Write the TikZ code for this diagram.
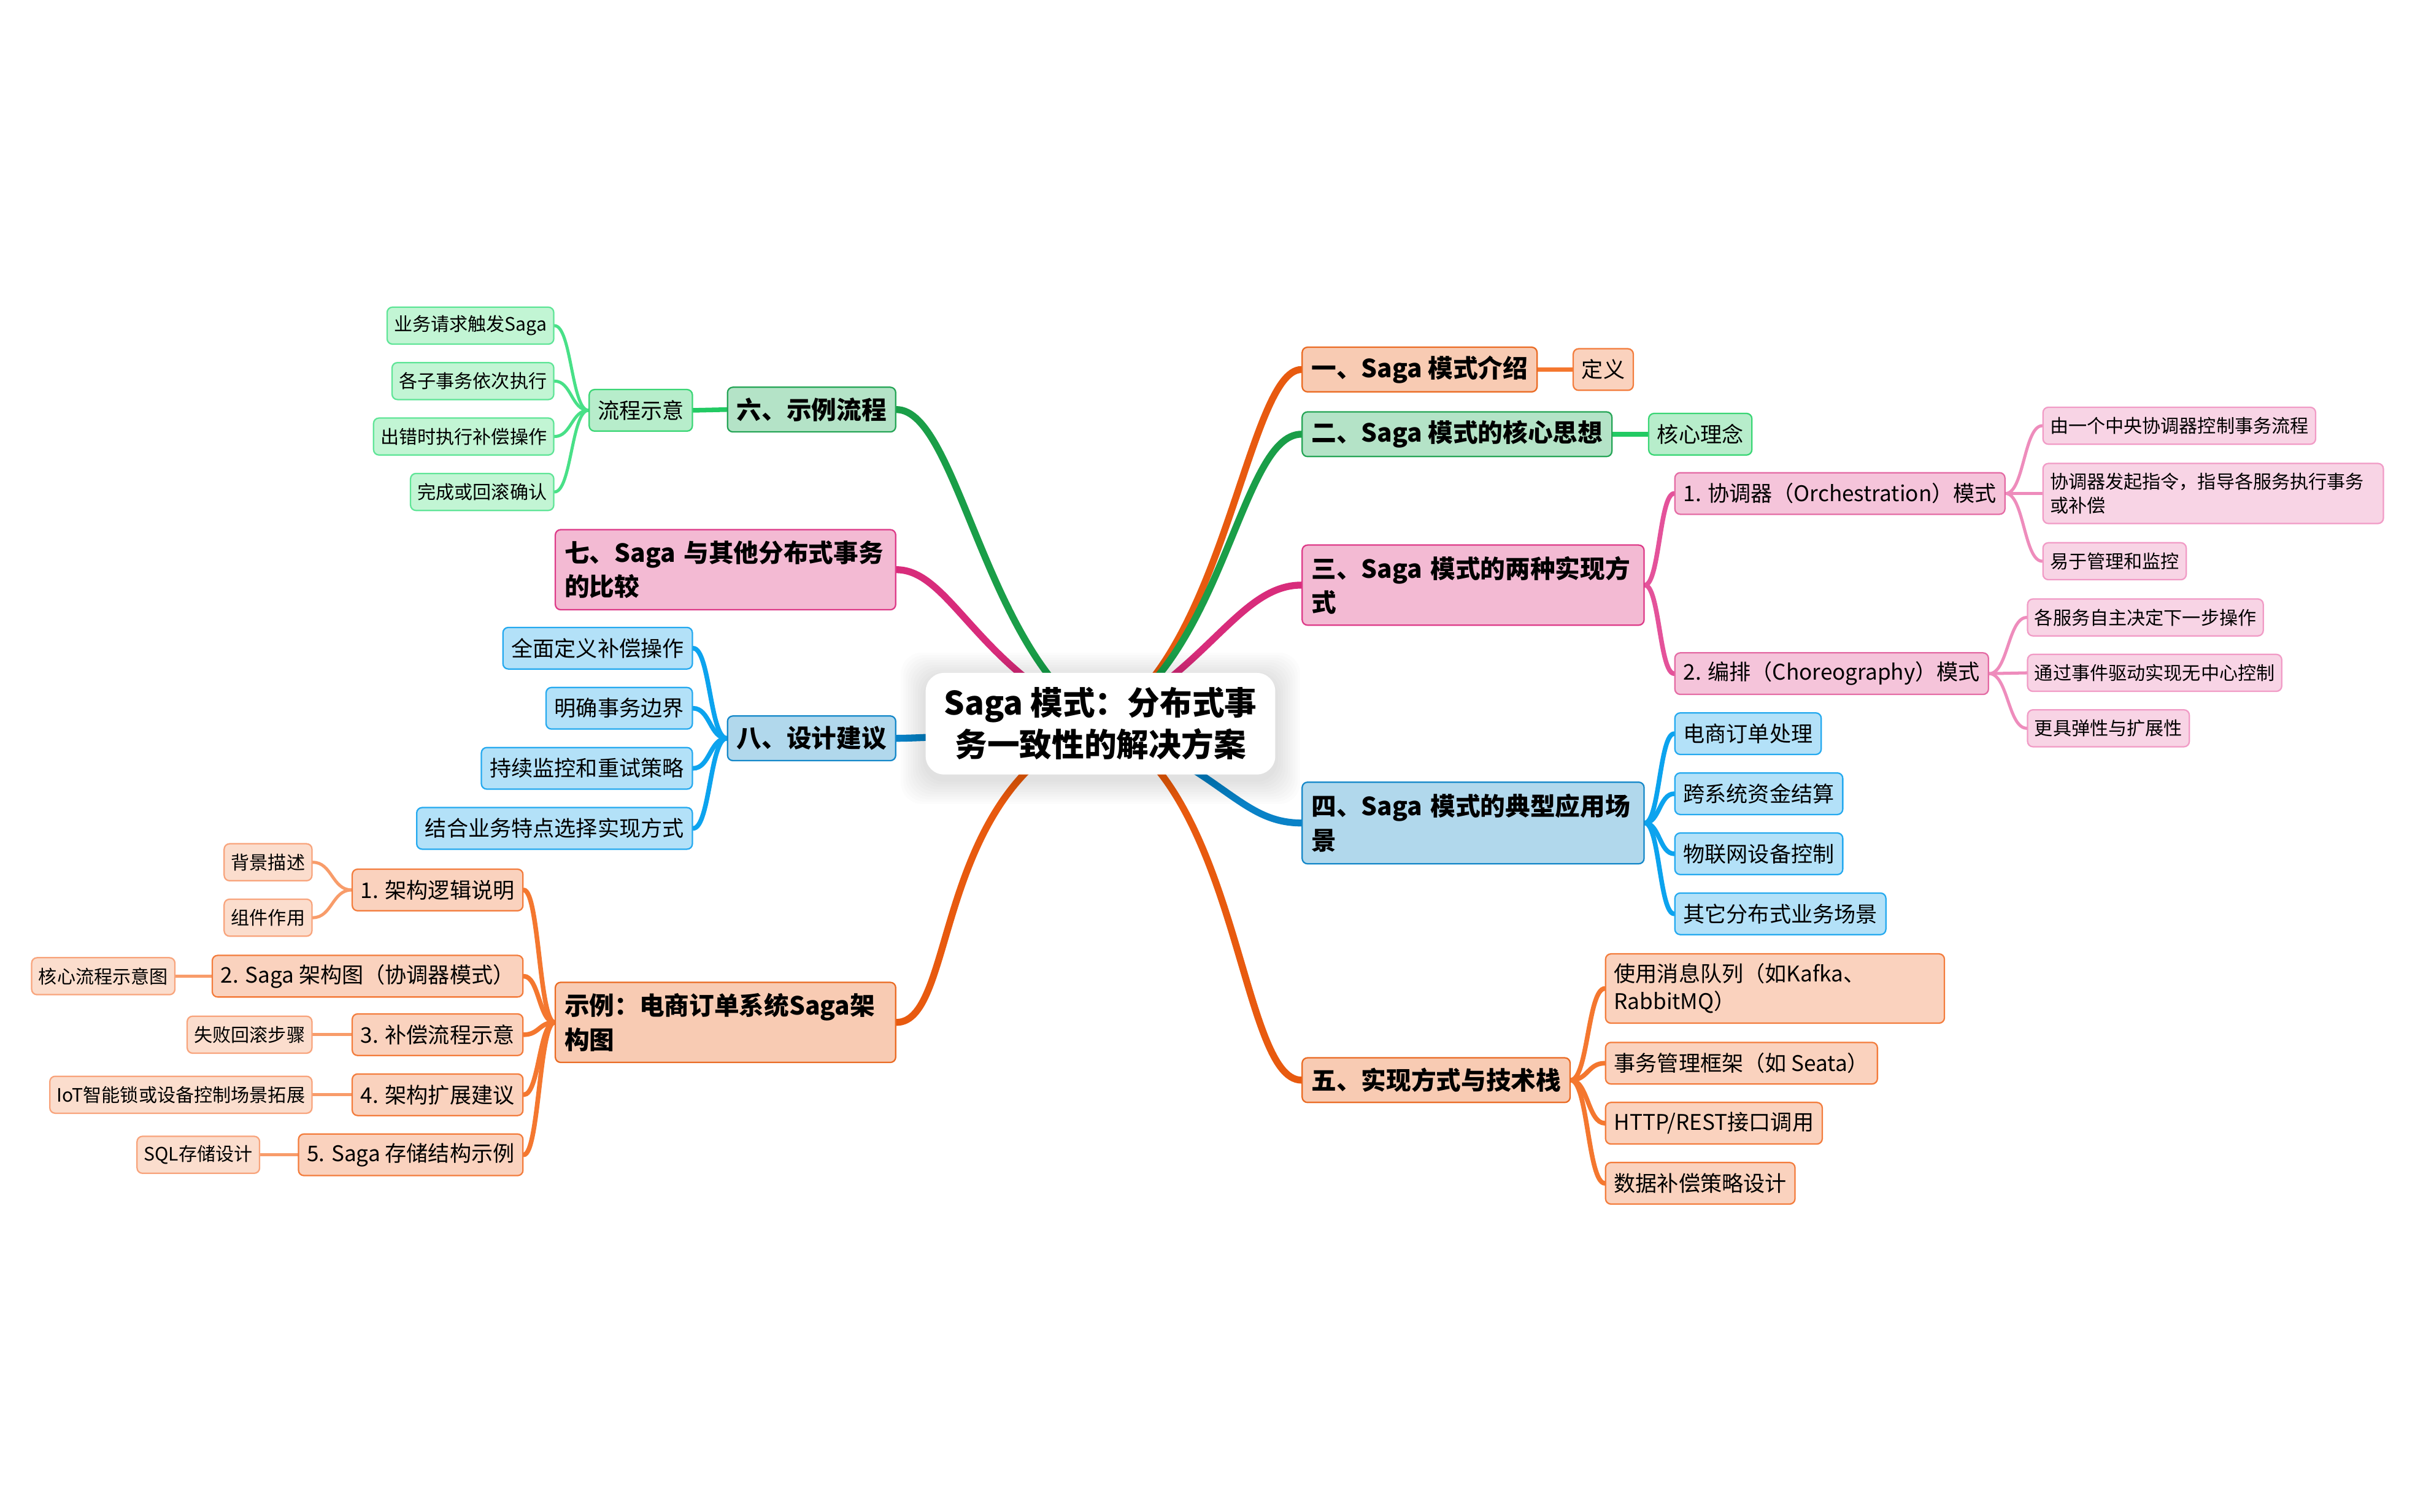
\documentclass[tikz,border=0pt]{standalone}
\usepackage{fontspec}
\setmainfont{Noto Sans CJK SC}
\usetikzlibrary{calc}
\pgfdeclarelayer{back}
\pgfdeclarelayer{bg}
\pgfsetlayers{back,bg,main}
% orange
\definecolor{olineA}{HTML}{E85A0F}
\definecolor{ofillA}{HTML}{F8CBB3}
\definecolor{odrawA}{HTML}{EA6A22}
\definecolor{olineB}{HTML}{F4772F}
\definecolor{ofillB}{HTML}{FAD2BE}
\definecolor{odrawB}{HTML}{F37C3C}
\definecolor{olineC}{HTML}{F89C6A}
\definecolor{ofillC}{HTML}{FBDDCD}
\definecolor{odrawC}{HTML}{F8A47C}
% green
\definecolor{glineA}{HTML}{1A9E48}
\definecolor{gfillA}{HTML}{B4E3C7}
\definecolor{gdrawA}{HTML}{25A556}
\definecolor{glineB}{HTML}{22CA63}
\definecolor{gfillB}{HTML}{B7EDCB}
\definecolor{gdrawB}{HTML}{3AD675}
\definecolor{glineC}{HTML}{48E087}
\definecolor{gfillC}{HTML}{C2F5D4}
\definecolor{gdrawC}{HTML}{5FE597}
% pink
\definecolor{plineA}{HTML}{D82C7B}
\definecolor{pfillA}{HTML}{F3BAD3}
\definecolor{pdrawA}{HTML}{DD3A88}
\definecolor{plineB}{HTML}{E4529A}
\definecolor{pfillB}{HTML}{F5C4DA}
\definecolor{pdrawB}{HTML}{E46BA4}
\definecolor{plineC}{HTML}{EE8CBC}
\definecolor{pfillC}{HTML}{F8D4E5}
\definecolor{pdrawC}{HTML}{F19BC6}
% blue
\definecolor{blineA}{HTML}{0A82C7}
\definecolor{bfillA}{HTML}{B1D8EC}
\definecolor{bdrawA}{HTML}{1588C9}
\definecolor{blineB}{HTML}{0CA3EE}
\definecolor{bfillB}{HTML}{B3E1F8}
\definecolor{bdrawB}{HTML}{24A9EF}
\tikzset{
  mm/.style={to path={let \p1=(\tikztostart), \p2=(\tikztotarget) in
     .. controls ({\x1+0.5*(\x2-\x1)},\y1) and ({\x1+0.5*(\x2-\x1)},\y2) .. (\tikztotarget)}},
  bx/.style={draw, rounded corners=3.5pt, line width=0.9pt, align=left, text=black, inner ysep=2pt},
  lvA/.style={bx, font=\fontsize{16.2}{22}\selectfont\bfseries, inner xsep=6pt, minimum height=29pt},
  lvB/.style={bx, font=\fontsize{14}{18}\selectfont, inner xsep=5.5pt, minimum height=27pt},
  lvC/.style={bx, font=\fontsize{12}{15.5}\selectfont, inner xsep=4.5pt, minimum height=24pt},
  nOA/.style={lvA, fill=ofillA, draw=odrawA},
  nOB/.style={lvB, fill=ofillB, draw=odrawB},
  nOC/.style={lvC, fill=ofillC, draw=odrawC},
  nGA/.style={lvA, fill=gfillA, draw=gdrawA},
  nGB/.style={lvB, fill=gfillB, draw=gdrawB},
  nGC/.style={lvC, fill=gfillC, draw=gdrawC},
  nPA/.style={lvA, fill=pfillA, draw=pdrawA},
  nPB/.style={lvB, fill=pfillB, draw=pdrawB},
  nPC/.style={lvC, fill=pfillC, draw=pdrawC},
  nBA/.style={lvA, fill=bfillA, draw=bdrawA},
  nBB/.style={lvB, fill=bfillB, draw=bdrawB},
  eA/.style={line width=4.5pt, line cap=round},
  eB/.style={line width=3pt, line cap=round},
  eC/.style={line width=2pt, line cap=round},
  eOA/.style={eA, draw=olineA}, eOB/.style={eB, draw=olineB}, eOC/.style={eC, draw=olineC},
  eGA/.style={eA, draw=glineA}, eGB/.style={eB, draw=glineB}, eGC/.style={eC, draw=glineC},
  ePA/.style={eA, draw=plineA}, ePB/.style={eB, draw=plineB}, ePC/.style={eC, draw=plineC},
  eBA/.style={eA, draw=blineA}, eBB/.style={eB, draw=blineB},
}
\begin{document}
\begin{tikzpicture}[x=1pt,y=1pt]
\begin{pgfonlayer}{back}
\fill[white] (0,0) rectangle (1568,-981.6);
\end{pgfonlayer}
\useasboundingbox (0,0) rectangle (1568,-981.6);

% central
\node[fill=white, rounded corners=12pt, minimum width=227pt, minimum height=66pt, inner sep=0pt,
      align=center, font=\fontsize{21}{27}\selectfont\bfseries] (c) at (714.5,-470) {Saga 模式：分布式事\\务一致性的解决方案};

% right side
\node[nOA, anchor=west] (b1) at (845,-240) {一、Saga 模式介绍};
\node[nOB, anchor=west] (b1a) at (1021,-240) {定义};
\node[nGA, anchor=west] (b2) at (845,-282) {二、Saga 模式的核心思想};
\node[nGB, anchor=west] (b2a) at (1070,-282) {核心理念};
\node[nPA, anchor=west, text width=210pt, minimum height=52pt] (b3) at (845,-380) {\mbox{三、Saga 模式的两种实现方}\\式};
\node[nPB, anchor=west] (b3a) at (1087,-320.5) {1. 协调器（Orchestration）模式};
\node[nPC, anchor=west] (b3a1) at (1326,-276.5) {由一个中央协调器控制事务流程};
\node[nPC, anchor=west, text width=212pt, minimum height=39pt] (b3a2) at (1326,-320.5) {协调器发起指令，指导各服务执行事务\\或补偿};
\node[nPC, anchor=west] (b3a3) at (1326,-364.5) {易于管理和监控};
\node[nPB, anchor=west] (b3b) at (1087,-437.5) {2. 编排（Choreography）模式};
\node[nPC, anchor=west] (b3b1) at (1316,-401) {各服务自主决定下一步操作};
\node[nPC, anchor=west] (b3b2) at (1316,-437) {通过事件驱动实现无中心控制};
\node[nPC, anchor=west] (b3b3) at (1316,-473) {更具弹性与扩展性};
\node[nBA, anchor=west, text width=210pt, minimum height=53pt] (b4) at (845,-534.5) {\mbox{四、Saga 模式的典型应用场}\\景};
\node[nBB, anchor=west] (b4a) at (1087,-476.5) {电商订单处理};
\node[nBB, anchor=west] (b4b) at (1087,-515.5) {跨系统资金结算};
\node[nBB, anchor=west] (b4c) at (1087,-554.5) {物联网设备控制};
\node[nBB, anchor=west] (b4d) at (1087,-593.5) {其它分布式业务场景};
\node[nOA, anchor=west] (b5) at (845,-701.5) {五、实现方式与技术栈};
\node[nOB, anchor=west, text width=209pt, minimum height=45pt] (b5a) at (1042,-642) {使用消息队列（如Kafka、\\RabbitMQ）};
\node[nOB, anchor=west] (b5b) at (1042,-690.5) {事务管理框架（如 Seata）};
\node[nOB, anchor=west] (b5c) at (1042,-729.5) {HTTP/REST接口调用};
\node[nOB, anchor=west] (b5d) at (1042,-768.5) {数据补偿策略设计};

% left side
\node[nGA, anchor=east] (b6) at (582,-266) {六、示例流程};
\node[nGB, anchor=east] (b6a) at (450,-266.5) {流程示意};
\node[nGC, anchor=east] (b6a1) at (360,-211.5) {业务请求触发Saga};
\node[nGC, anchor=east] (b6a2) at (360,-247.5) {各子事务依次执行};
\node[nGC, anchor=east] (b6a3) at (360,-283.5) {出错时执行补偿操作};
\node[nGC, anchor=east] (b6a4) at (360,-319.5) {完成或回滚确认};
\node[nPA, anchor=east, text width=209pt, minimum height=52pt] (b7) at (582,-370) {\mbox{七、Saga 与其他分布式事务}\\的比较};
\node[nBA, anchor=east] (b8) at (582,-479.5) {八、设计建议};
\node[nBB, anchor=east] (b8a) at (450,-421) {全面定义补偿操作};
\node[nBB, anchor=east] (b8b) at (450,-460) {明确事务边界};
\node[nBB, anchor=east] (b8c) at (450,-499) {持续监控和重试策略};
\node[nBB, anchor=east] (b8d) at (450,-538) {结合业务特点选择实现方式};
\node[nOA, anchor=east, text width=209pt, minimum height=52pt] (b9) at (582,-664) {示例：电商订单系统Saga架\\构图};
\node[nOB, anchor=east] (b9a) at (340,-578) {1. 架构逻辑说明};
\node[nOC, anchor=east] (b9a1) at (203,-560) {背景描述};
\node[nOC, anchor=east] (b9a2) at (203,-596) {组件作用};
\node[nOB, anchor=east] (b9b) at (340,-634) {2. Saga 架构图（协调器模式）};
\node[nOC, anchor=east] (b9b1) at (114,-634) {核心流程示意图};
\node[nOB, anchor=east] (b9c) at (340,-672) {3. 补偿流程示意};
\node[nOC, anchor=east] (b9c1) at (203,-672) {失败回滚步骤};
\node[nOB, anchor=east] (b9d) at (340,-711) {4. 架构扩展建议};
\node[nOC, anchor=east] (b9d1) at (203,-711) {IoT智能锁或设备控制场景拓展};
\node[nOB, anchor=east] (b9e) at (340,-750) {5. Saga 存储结构示例};
\node[nOC, anchor=east] (b9e1) at (169,-750) {SQL存储设计};

\begin{pgfonlayer}{bg}
% main branches
\draw[eOA] (c.center) .. controls +(80,40) and +(-35,0) .. (b1.west);
\draw[eGA] (c.center) .. controls +(80,40) and +(-40,0) .. (b2.west);
\draw[ePA] (c.center) .. controls +(70,35) and +(-40,0) .. (b3.west);
\draw[eBA] (c.center) .. controls +(80,-30) and +(-40,0) .. (b4.west);
\draw[eOA] (c.center) .. controls +(90,-40) and +(-40,0) .. (b5.west);
\draw[eGA] (c.center) .. controls +(-75,45) and +(40,0) .. (b6.east);
\draw[ePA] (c.center) .. controls +(-80,35) and +(35,0) .. (b7.east);
\draw[eBA] (c.center) .. controls +(-40,-5) and +(20,0) .. (b8.east);
\draw[eOA] (c.center) .. controls +(-110,-40) and +(40,0) .. (b9.east);
% right sub branches
\draw[eOB] (b1.east) -- (b1a.west);
\draw[eGB] (b2.east) -- (b2a.west);
\foreach \t in {b3a,b3b} \draw[ePB] (b3.east) to[mm] (\t.west);
\foreach \t in {b3a1,b3a2,b3a3} \draw[ePC] (b3a.east) to[mm] (\t.west);
\foreach \t in {b3b1,b3b2,b3b3} \draw[ePC] (b3b.east) to[mm] (\t.west);
\foreach \t in {b4a,b4b,b4c,b4d} \draw[eBB] (b4.east) to[mm] (\t.west);
\foreach \t in {b5a,b5b,b5c,b5d} \draw[eOB] (b5.east) to[mm] (\t.west);
% left sub branches
\draw[eGB] (b6.west) -- (b6a.east);
\foreach \t in {b6a1,b6a2,b6a3,b6a4} \draw[eGC] (b6a.west) to[mm] (\t.east);
\foreach \t in {b8a,b8b,b8c,b8d} \draw[eBB] (b8.west) to[mm] (\t.east);
\foreach \t in {b9a,b9b,b9c,b9d,b9e} \draw[eOB] (b9.west) to[mm] (\t.east);
\foreach \t in {b9a1,b9a2} \draw[eOC] (b9a.west) to[mm] (\t.east);
\draw[eOC] (b9b.west) -- (b9b1.east);
\draw[eOC] (b9c.west) -- (b9c1.east);
\draw[eOC] (b9d.west) -- (b9d1.east);
\draw[eOC] (b9e.west) -- (b9e1.east);
% soft shadow of the central topic
\foreach \i in {1,...,10}
  \fill[black, opacity=0.012, rounded corners=14pt]
    ($(c.south west)+(-1.6*\i,-1.6*\i-3)$) rectangle ($(c.north east)+(1.6*\i,1.6*\i-3)$);
\end{pgfonlayer}
\end{tikzpicture}
\end{document}
